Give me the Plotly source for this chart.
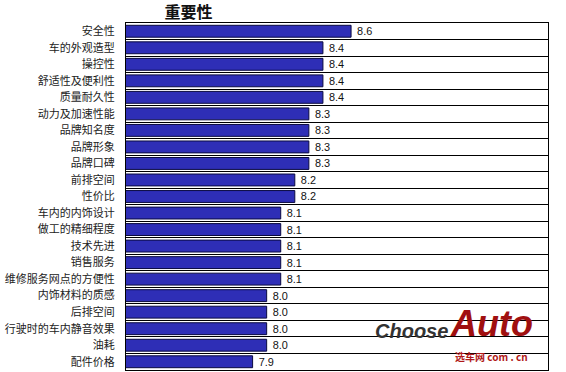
import plotly.graph_objects as go

categories = ["安全性", "车的外观造型", "操控性", "舒适性及便利性", "质量耐久性",
              "动力及加速性能", "品牌知名度", "品牌形象", "品牌口碑", "前排空间",
              "性价比", "车内的内饰设计", "做工的精细程度", "技术先进", "销售服务",
              "维修服务网点的方便性", "内饰材料的质感", "后排空间", "行驶时的车内静音效果",
              "油耗", "配件价格"]
values = [8.6, 8.4, 8.4, 8.4, 8.4, 8.3, 8.3, 8.3, 8.3, 8.2, 8.2,
          8.1, 8.1, 8.1, 8.1, 8.1, 8.0, 8.0, 8.0, 8.0, 7.9]
title_text = "重要性"

fig = go.Figure()
fig.add_trace(go.Bar(
    x=values, y=categories, orientation="h",
    marker=dict(color="#2e2eb6", line=dict(color="#0a0a40", width=1)),
    text=[f" {v:.1f}" for v in values], textposition="outside",
    textfont=dict(family="Liberation Sans, Arial", size=11, color="#111111"),
    cliponaxis=False,
))

fig.update_layout(
    width=566, height=372,
    margin=dict(l=126, r=18, t=23, b=2),
    paper_bgcolor="white", plot_bgcolor="white",
    bargap=0.28,
    showlegend=False,
    title=dict(text=f"<b>{title_text}</b>", x=0.333, xanchor="center", y=0.968, yanchor="middle",
               font=dict(family="Noto Sans CJK SC", size=16, color="#111111")),
    xaxis=dict(range=[7, 10], showticklabels=False, ticks="", showgrid=False,
               zeroline=False, showline=True, linecolor="black", linewidth=1, mirror=True),
    yaxis=dict(autorange="reversed", tickson="boundaries", showgrid=True,
               gridcolor="black", gridwidth=1, ticks="", ticklabelstandoff=8,
               showline=True, linecolor="black", linewidth=1, mirror=True,
               tickfont=dict(family="Noto Sans CJK SC", size=11, color="#222222")),
)

# watermark logo
fig.add_annotation(xref="paper", yref="paper", x=0.768, y=0.112, xanchor="right", yanchor="middle",
                   text="<b><i>Choose</i></b>", showarrow=False,
                   font=dict(family="Liberation Sans", size=20, color="#333333"))
fig.add_annotation(xref="paper", yref="paper", x=0.762, y=0.135, xanchor="left", yanchor="middle",
                   text="<b><i>Auto</i></b>", showarrow=False,
                   font=dict(family="Liberation Sans", size=36, color="#a01010"))
fig.add_annotation(xref="paper", yref="paper", x=0.775, y=0.038, xanchor="left", yanchor="middle",
                   text="<b>选车网 com . cn</b>", showarrow=False,
                   font=dict(family="Noto Sans CJK SC", size=10, color="#b01818"))

fig.write_html("out.html")
